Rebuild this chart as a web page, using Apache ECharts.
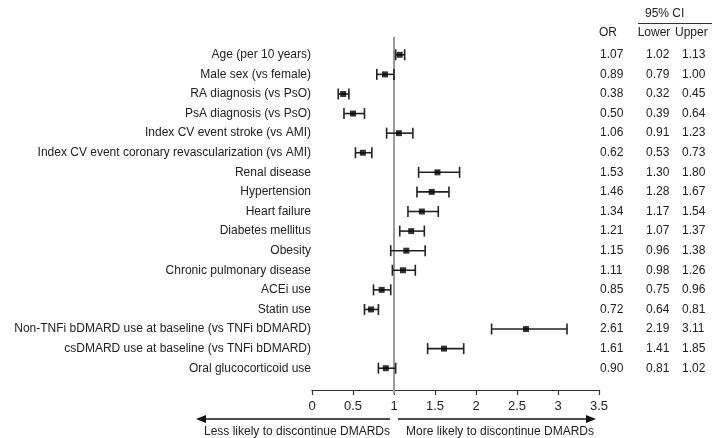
<!DOCTYPE html>
<html><head><meta charset="utf-8">
<script src="https://cdn.jsdelivr.net/npm/echarts@6/dist/echarts.min.js"></script>
<style>html,body{margin:0;padding:0;background:#fff}#c{width:712px;height:438px}</style>
</head><body><div id="c"></div>
<script>
const categories = [
  'Age (per 10 years)',
  'Male sex (vs female)',
  'RA diagnosis (vs PsO)',
  'PsA diagnosis (vs PsO)',
  'Index CV event stroke (vs AMI)',
  'Index CV event coronary revascularization (vs AMI)',
  'Renal disease',
  'Hypertension',
  'Heart failure',
  'Diabetes mellitus',
  'Obesity',
  'Chronic pulmonary disease',
  'ACEi use',
  'Statin use',
  'Non-TNFi bDMARD use at baseline (vs TNFi bDMARD)',
  'csDMARD use at baseline (vs TNFi bDMARD)',
  'Oral glucocorticoid use'
];
const oddsRatio = [1.07,0.89,0.38,0.50,1.06,0.62,1.53,1.46,1.34,1.21,1.15,1.11,0.85,0.72,2.61,1.61,0.90];
const ciLower   = [1.02,0.79,0.32,0.39,0.91,0.53,1.30,1.28,1.17,1.07,0.96,0.98,0.75,0.64,2.19,1.41,0.81];
const ciUpper   = [1.13,1.00,0.45,0.64,1.23,0.73,1.80,1.67,1.54,1.37,1.38,1.26,0.96,0.81,3.11,1.85,1.02];
const xTicks = [0,0.5,1,1.5,2,2.5,3,3.5];
const refValue = 1;

const fmt = v => v.toFixed(2);
const FONT = 'Liberation Sans, Arial, sans-serif';
const TXT = '#222';

const chart = echarts.init(document.getElementById('c'), null, {renderer:'canvas'});

function colAxis(values, offset) {
  return {
    type:'category', data: values.map(fmt), inverse:true, position:'right', offset: offset,
    axisLine:{show:false}, axisTick:{show:false},
    axisLabel:{show:true, margin:0, fontSize:12, color:TXT, fontFamily:FONT, interval:0}
  };
}

chart.setOption({
  animation:false,
  grid:{left:312, right:113, top:45, height:333},
  xAxis:{
    type:'value', min:xTicks[0], max:xTicks[xTicks.length-1], interval:0.5, offset:12,
    axisLine:{show:true, lineStyle:{color:'#333', width:1.2}},
    axisTick:{show:true, length:5, inside:false, lineStyle:{color:'#333', width:1.2}},
    axisLabel:{fontSize:13, color:TXT, fontFamily:FONT, margin:10,
      formatter: v => xTicks.includes(v) ? String(v) : ''},
    splitLine:{show:false}
  },
  yAxis:[
    {type:'category', data:categories, inverse:true,
      axisLine:{show:false}, axisTick:{show:false},
      axisLabel:{margin:1, fontSize:12, color:TXT, fontFamily:FONT, interval:0}},
    colAxis(oddsRatio, 1),
    colAxis(ciLower, 47),
    colAxis(ciUpper, 83)
  ],
  series:[
    {
      type:'custom', silent:true,
      data:[[refValue, 0]],
      renderItem(params, api){
        const cs = params.coordSys;
        const x = api.coord([api.value(0), 0])[0];
        return {type:'line', shape:{x1:x, y1:cs.y-8, x2:x, y2:cs.y+cs.height+16},
          style:{stroke:'#9a9a9a', lineWidth:2}};
      },
      z:1
    },
    {
      type:'custom', silent:true,
      data: categories.map((c,i)=>[i, ciLower[i], ciUpper[i]]),
      encode:{x:[1,2], y:0},
      renderItem(params, api){
        const i = api.value(0);
        const p1 = api.coord([api.value(1), i]);
        const p2 = api.coord([api.value(2), i]);
        const h = 5.5;
        const st = {stroke:'#222', lineWidth:1.6};
        return {type:'group', children:[
          {type:'line', shape:{x1:p1[0], y1:p1[1], x2:p2[0], y2:p2[1]}, style:st},
          {type:'line', shape:{x1:p1[0], y1:p1[1]-h, x2:p1[0], y2:p1[1]+h}, style:st},
          {type:'line', shape:{x1:p2[0], y1:p2[1]-h, x2:p2[0], y2:p2[1]+h}, style:st}
        ]};
      },
      z:2
    },
    {
      type:'scatter', silent:true, symbol:'rect', symbolSize:6,
      itemStyle:{color:'#000'},
      data: oddsRatio.map((v,i)=>[v, categories[i]]),
      z:3
    }
  ],
  graphic:[
    {type:'text', left:645, top:8, style:{text:'95% CI', fontSize:12, fill:TXT, font:'12px '+FONT}},
    {type:'line', shape:{x1:638, y1:23.5, x2:712, y2:23.5}, style:{stroke:'#333', lineWidth:1.2}},
    {type:'text', x:608, y:33, style:{text:'OR', font:'12px '+FONT, fill:TXT, align:'center', verticalAlign:'middle'}},
    {type:'text', x:654, y:33, style:{text:'Lower', font:'12px '+FONT, fill:TXT, align:'center', verticalAlign:'middle'}},
    {type:'text', x:675, y:33, style:{text:'Upper', font:'12px '+FONT, fill:TXT, align:'left', verticalAlign:'middle'}},
    {type:'line', shape:{x1:203, y1:419, x2:390, y2:419}, style:{stroke:'#111', lineWidth:1.3}},
    {type:'polygon', shape:{points:[[196,419],[206,415],[206,423]]}, style:{fill:'#111'}},
    {type:'line', shape:{x1:398, y1:419, x2:589, y2:419}, style:{stroke:'#111', lineWidth:1.3}},
    {type:'polygon', shape:{points:[[596,419],[586,415],[586,423]]}, style:{fill:'#111'}},
    {type:'text', x:297, y:432, style:{text:'Less likely to discontinue DMARDs', font:'12px '+FONT, fill:TXT, align:'center', verticalAlign:'middle'}},
    {type:'text', x:500, y:432, style:{text:'More likely to discontinue DMARDs', font:'12px '+FONT, fill:TXT, align:'center', verticalAlign:'middle'}}
  ]
});
</script></body></html>
